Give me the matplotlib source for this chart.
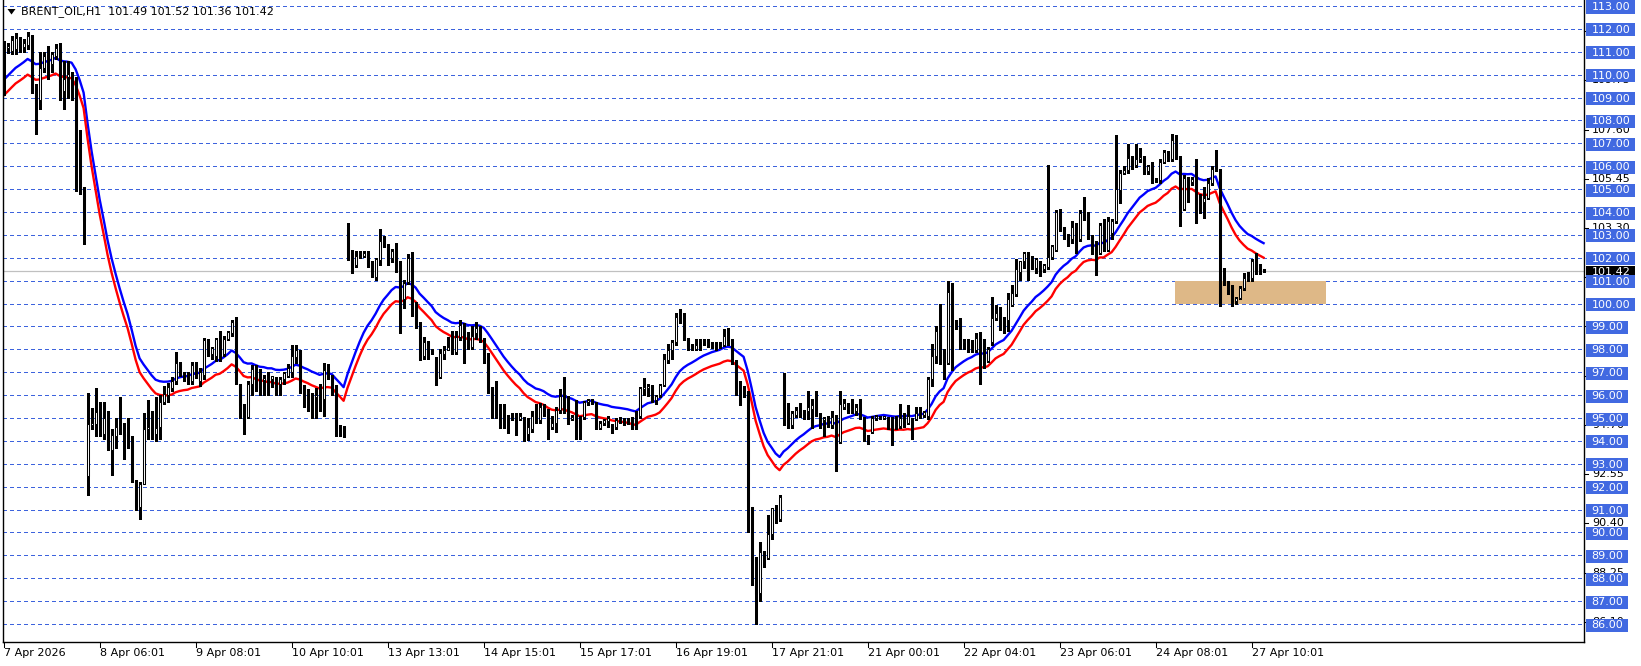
import numpy as np
import matplotlib
matplotlib.use('Agg')
import matplotlib.pyplot as plt
from matplotlib.patches import Rectangle, Polygon
from matplotlib.transforms import blended_transform_factory

# ---------------- data (hourly OHLC, one value per bar) ----------------
opens = [
    111.25, 111.15, 111.05, 111.1, 111.35, 111.2, 111.3, 111.7, 109.4, 108.9,
    110.3, 110.8, 110.45, 110.8, 111.2, 109.3, 109.9, 110.0, 109.8, 107.15,
    105.05, 92.45, 94.7, 94.75, 95.3, 94.3, 95.0, 93.6, 94.2, 94.6,
    94.4, 94.3, 94.0, 92.2, 91.1, 92.1, 94.5, 94.6, 94.3, 94.6,
    95.7, 96.0, 96.3, 96.6, 97.4, 96.95, 96.85, 96.6, 97.3, 96.6,
    96.9, 98.3, 97.8, 97.7, 98.45, 97.8, 98.45, 98.7, 99.2, 96.5,
    95.55, 95.05, 96.5, 97.15, 96.8, 96.65, 96.7, 96.7, 96.7, 96.5,
    96.7, 96.85, 97.0, 97.65, 97.95, 96.4, 96.1, 96.05, 95.9, 96.1,
    95.85, 97.2, 96.8, 96.4, 94.6, 94.6, 103.25, 102.2, 101.7, 102.15,
    102.1, 102.2, 101.75, 101.15, 101.9, 102.75, 102.5, 102.0, 102.3, 101.7,
    100.2, 100.95, 102.0, 99.9, 99.1, 97.7, 98.3, 97.9, 97.55, 96.8,
    97.8, 97.95, 98.1, 97.9, 98.55, 99.05, 98.6, 98.1, 98.7, 98.95,
    98.4, 97.8, 96.3, 95.8, 95.4, 95.15, 95.0, 95.05, 95.1, 94.95,
    95.0, 94.3, 94.5, 95.1, 94.9, 95.5, 95.3, 94.6, 94.8, 95.35,
    96.05, 95.9, 94.95, 95.2, 95.0, 95.05, 95.7, 95.75, 95.6, 94.55,
    94.8, 94.85, 94.65, 94.6, 94.9, 94.9, 94.95, 95.0, 94.95, 95.1,
    96.25, 96.3, 96.4, 95.8, 96.0, 96.45, 97.55, 97.95, 98.3, 99.4,
    99.25, 98.45, 98.2, 98.0, 98.35, 98.4, 98.35, 98.2, 98.25, 98.2,
    98.2, 98.6, 98.3, 97.5, 96.3, 96.2, 96.05, 91.1, 88.9, 87.35,
    89.15, 88.9, 89.95, 91.05, 90.6, 96.65, 95.5, 94.7, 95.15, 95.35,
    95.2, 95.3, 95.4, 95.5, 95.1, 94.9, 95.0, 94.7, 95.0, 93.95,
    95.5, 95.6, 95.3, 95.3, 95.5, 95.0, 94.2, 94.4, 95.0, 95.0,
    95.0, 95.0, 94.7, 95.0, 94.65, 95.1, 94.8, 94.9, 94.95, 95.1,
    95.15, 95.1, 96.7, 97.7, 98.75, 97.9, 97.4, 100.55, 99.2, 99.25,
    98.3, 98.35, 98.25, 97.98, 98.5, 98.3, 97.5, 98.3, 99.35, 99.6,
    99.3, 99.3, 99.95, 100.4, 101.4, 101.85, 102.2, 102.0, 101.55, 101.7,
    101.5, 101.6, 102.05, 102.35, 104.0, 103.3, 103.0, 102.8, 103.35, 102.8,
    103.95, 103.9, 102.9, 102.55, 102.2, 103.4, 102.35, 103.1, 103.6, 104.95,
    105.7, 105.85, 106.35, 106.05, 106.3, 106.3, 105.8, 106.1, 105.4, 105.4,
    106.2, 106.55, 106.3, 107.15, 106.35, 104.15, 105.5, 105.3, 105.45, 104.75,
    104.45, 104.6, 105.25, 105.85, 105.85, 101.2, 100.95, 100.75, 100.1, 100.25,
    100.7, 101.1, 101.1, 101.85, 101.45, 101.49]

highs = [
    111.45, 111.4, 111.7, 111.8, 111.65, 111.55, 111.85, 111.75, 109.6, 111.0,
    111.0, 111.25, 111.0, 111.35, 111.4, 110.6, 110.6, 110.1, 109.9, 107.6,
    105.1, 96.1, 95.45, 96.3, 95.7, 95.7, 95.3, 94.5, 95.0, 95.9,
    94.8, 95.0, 94.2, 92.3, 92.2, 95.2, 95.8, 95.3, 95.9, 96.0,
    96.4, 96.55, 96.8, 97.9, 97.45, 97.0, 97.0, 97.45, 97.45, 97.2,
    98.5, 98.45, 98.1, 98.5, 98.8, 98.6, 98.8, 99.3, 99.4, 96.5,
    95.6, 96.6, 97.3, 97.3, 97.15, 96.9, 97.0, 96.85, 96.8, 96.8,
    97.0, 97.35, 98.2, 98.2, 97.95, 96.45, 96.25, 96.1, 96.3, 96.5,
    97.4, 97.35, 96.9, 96.45, 94.7, 94.65, 103.5, 102.35, 102.3, 102.3,
    102.3, 102.3, 101.85, 102.0, 103.25, 102.95, 102.6, 102.4, 102.65, 101.85,
    101.05, 102.15, 102.25, 100.05, 99.2, 98.55, 98.35, 98.0, 97.65, 98.0,
    98.15, 98.55, 98.8, 98.8, 99.3, 99.15, 98.75, 99.0, 99.2, 99.0,
    98.5, 97.85, 96.35, 96.6, 95.6, 95.6, 95.15, 95.2, 95.2, 95.2,
    95.05, 95.0, 95.3, 95.6, 95.65, 95.6, 95.4, 95.1, 95.5, 96.25,
    96.8, 95.95, 95.15, 95.8, 95.1, 95.75, 95.85, 95.85, 95.7, 94.85,
    94.95, 95.1, 94.75, 95.0, 95.05, 95.0, 95.0, 95.05, 95.3, 96.35,
    96.75, 96.5, 96.45, 96.0, 96.5, 97.8, 98.25, 98.4, 99.6, 99.75,
    99.6, 98.5, 98.25, 98.45, 98.45, 98.45, 98.45, 98.3, 98.3, 98.3,
    98.9, 98.95, 98.45, 97.55, 96.6, 96.4, 96.2, 91.1, 88.95, 89.6,
    89.2, 90.75, 91.05, 91.2, 91.65, 96.95, 95.65, 95.3, 95.5, 95.65,
    95.35, 96.2, 95.85, 96.2, 95.2, 95.05, 95.1, 95.3, 95.15, 96.2,
    95.85, 95.65, 95.85, 95.6, 95.85, 95.05, 94.25, 95.1, 95.15, 95.1,
    95.1, 95.05, 95.05, 95.1, 95.6, 95.2, 95.55, 95.0, 95.5, 95.5,
    95.3, 96.8, 98.25, 99.0, 100.0, 98.0, 101.0, 100.9, 99.3, 99.35,
    98.45, 98.45, 98.4, 98.7, 98.75, 98.45, 98.1, 100.3, 99.95, 99.85,
    99.4, 100.45, 100.8, 101.95, 101.85, 102.25, 102.25, 102.1, 102.0, 101.85,
    101.75, 106.05, 102.55, 104.1, 104.15, 103.35, 103.05, 103.6, 103.5, 104.1,
    104.65, 104.0, 103.0, 102.75, 103.5, 103.7, 103.8, 103.7, 107.35, 105.85,
    106.0, 106.95, 106.45, 106.95, 106.8, 106.45, 106.05, 106.2, 105.5, 106.3,
    106.7, 106.65, 107.42, 107.35, 106.45, 105.6, 105.55, 105.55, 106.3, 104.8,
    105.1, 105.5, 106.0, 106.7, 105.9, 101.55, 101.0, 100.8, 100.3, 100.75,
    101.35, 101.4, 101.95, 102.2, 101.75, 101.52]

lows = [
    109.1, 110.95, 110.9, 110.9, 111.0, 111.0, 111.1, 109.2, 107.4, 108.5,
    110.1, 109.8, 110.1, 110.7, 108.9, 108.5, 109.0, 108.9, 104.9, 104.8,
    102.6, 91.65, 94.5, 94.2, 94.2, 94.1, 93.6, 92.5, 93.7, 94.3,
    93.2, 93.7, 92.2, 91.0, 90.6, 92.1, 94.1, 94.1, 94.0, 94.1,
    95.6, 95.7, 96.2, 96.5, 96.85, 96.6, 96.5, 96.5, 96.75, 96.4,
    96.7, 97.7, 97.6, 97.5, 97.5, 97.7, 98.4, 98.6, 96.5, 95.0,
    94.3, 95.0, 96.0, 96.2, 96.0, 96.0, 96.0, 96.35, 96.0, 96.0,
    96.5, 96.8, 96.8, 97.4, 96.1, 95.5, 95.3, 95.0, 95.0, 95.3,
    95.1, 96.7, 96.0, 94.2, 94.2, 94.15, 101.9, 101.35, 101.6, 102.0,
    102.05, 101.6, 101.15, 101.05, 101.7, 102.45, 101.7, 101.8, 101.4, 98.7,
    99.8, 100.85, 99.45, 98.95, 97.55, 97.6, 97.6, 97.8, 96.45, 96.75,
    97.6, 97.95, 97.8, 97.8, 98.4, 97.4, 98.0, 98.0, 98.45, 98.3,
    97.4, 96.1, 95.0, 95.0, 94.55, 94.55, 94.35, 94.9, 94.25, 94.9,
    94.0, 94.05, 94.4, 94.8, 94.8, 95.1, 94.1, 94.5, 94.4, 95.2,
    95.2, 94.75, 94.9, 94.1, 94.1, 94.95, 95.55, 95.6, 94.5, 94.5,
    94.7, 94.6, 94.35, 94.5, 94.8, 94.7, 94.75, 94.5, 94.5, 95.0,
    96.0, 95.95, 95.7, 95.6, 95.9, 96.4, 97.4, 97.6, 98.2, 99.15,
    98.4, 97.95, 97.95, 97.95, 97.95, 98.2, 98.1, 98.05, 97.95, 98.05,
    98.15, 98.2, 97.35, 96.0, 95.55, 95.9, 90.0, 87.7, 86.0, 87.0,
    88.5, 88.85, 89.7, 90.4, 90.5, 94.7, 94.55, 94.55, 95.05, 95.05,
    94.95, 94.95, 94.55, 95.1, 94.55, 94.2, 94.6, 94.55, 92.7, 93.9,
    95.4, 95.2, 95.2, 95.15, 94.95, 94.0, 93.85, 94.35, 94.9, 94.95,
    94.95, 94.5, 93.8, 94.5, 94.55, 94.6, 94.75, 94.1, 94.9, 95.0,
    95.05, 94.95, 96.4, 97.4, 97.35, 96.7, 97.35, 97.1, 98.9, 98.0,
    98.0, 97.9, 97.9, 97.9, 96.5, 97.2, 97.45, 98.2, 99.3, 98.85,
    98.7, 98.8, 99.9, 100.35, 101.05, 101.55, 101.05, 101.5, 101.35, 101.2,
    101.4, 101.5, 101.95, 102.3, 103.15, 102.8, 102.5, 102.65, 102.2, 102.75,
    103.65, 102.8, 102.15, 101.25, 102.15, 102.3, 102.3, 102.8, 103.5, 104.4,
    105.65, 105.7, 105.9, 105.98, 106.2, 105.65, 105.65, 105.25, 105.3, 105.25,
    106.15, 106.25, 106.25, 106.3, 103.37, 104.1, 104.45, 105.2, 103.5, 103.95,
    103.75, 104.55, 105.2, 105.8, 99.88, 100.8, 100.4, 99.9, 100.0, 100.2,
    100.6, 101.0, 101.0, 101.3, 101.3, 101.36]

closes = [
    111.15, 111.25, 111.5, 111.6, 111.2, 111.4, 111.7, 109.3, 108.9, 110.3,
    110.8, 110.75, 110.9, 111.15, 109.3, 109.8, 110.05, 109.8, 107.15, 105.05,
    103.6, 94.75, 94.8, 95.25, 94.5, 95.0, 93.7, 94.25, 94.6, 94.4,
    94.2, 94.1, 92.2, 91.1, 92.1, 94.5, 94.6, 94.3, 94.55, 95.7,
    96.05, 96.35, 96.6, 97.4, 97.0, 96.85, 96.75, 97.3, 97.0, 97.0,
    98.4, 98.0, 98.05, 98.45, 97.65, 98.45, 98.75, 99.2, 96.6, 95.55,
    95.05, 96.5, 97.15, 96.3, 96.3, 96.75, 96.4, 96.85, 96.2, 96.7,
    96.95, 97.2, 97.7, 97.95, 96.6, 96.05, 96.15, 95.85, 96.0, 95.85,
    97.1, 96.8, 96.4, 94.55, 94.5, 94.2, 102.15, 101.6, 102.1, 102.2,
    102.2, 101.7, 101.2, 101.95, 102.75, 102.5, 102.0, 102.3, 101.7, 100.2,
    100.9, 102.0, 99.9, 99.1, 97.6, 98.3, 98.0, 97.9, 96.8, 97.85,
    97.95, 98.1, 97.85, 98.55, 99.05, 98.55, 98.1, 98.6, 98.95, 98.4,
    97.8, 96.3, 95.75, 95.4, 95.15, 94.95, 95.05, 95.0, 94.95, 95.1,
    94.3, 94.6, 95.1, 94.9, 95.5, 95.2, 94.6, 94.8, 95.35, 95.95,
    95.8, 94.9, 95.05, 94.6, 94.55, 95.7, 95.8, 95.7, 94.55, 94.8,
    94.9, 95.0, 94.6, 94.9, 94.95, 94.85, 94.8, 94.55, 94.6, 96.3,
    96.35, 96.4, 95.8, 95.95, 96.45, 97.6, 97.95, 98.3, 99.4, 99.2,
    98.45, 98.15, 98.0, 98.2, 98.4, 98.35, 98.2, 98.25, 98.1, 98.2,
    98.6, 98.3, 97.5, 96.3, 96.2, 96.1, 91.1, 88.75, 87.3, 89.15,
    88.9, 89.95, 91.05, 90.7, 91.55, 95.5, 94.7, 95.2, 95.35, 95.25,
    95.15, 95.5, 95.55, 95.1, 94.75, 95.0, 94.7, 95.05, 93.85, 95.6,
    95.65, 95.3, 95.35, 95.5, 95.0, 94.2, 93.95, 95.0, 95.1, 95.05,
    95.1, 94.55, 94.55, 94.6, 95.0, 94.7, 95.1, 94.55, 95.2, 95.15,
    95.25, 96.7, 97.7, 98.8, 97.9, 97.35, 100.5, 99.2, 99.0, 98.3,
    98.35, 98.3, 98.1, 98.5, 98.0, 97.5, 98.0, 99.35, 99.6, 99.0,
    98.95, 100.2, 100.45, 101.5, 101.85, 102.2, 101.55, 101.5, 101.95, 101.35,
    101.7, 102.05, 102.5, 104.0, 103.2, 102.95, 102.7, 103.35, 102.75, 103.95,
    103.8, 102.85, 102.5, 102.05, 103.45, 102.35, 103.6, 103.6, 105.0, 105.7,
    105.85, 106.35, 106.0, 106.3, 106.4, 105.75, 106.0, 105.4, 105.35, 106.2,
    106.6, 106.3, 107.15, 106.35, 104.17, 105.5, 105.2, 105.45, 104.1, 104.1,
    104.6, 105.25, 105.9, 105.9, 99.95, 100.9, 100.75, 100.1, 100.25, 100.7,
    101.1, 101.15, 101.85, 101.4, 101.45, 101.42]

# envelope indicator: EMA of closes, upper band blue, lower band red
ma_period = 20
ma_start = 109.43          # average value at the first visible bar
env_deviation = 0.0031     # band offset as a fraction of the average

# x-axis labels: one every 24 bars
x_label_bars = [0, 24, 48, 72, 96, 120, 144, 168, 192, 216, 240, 264, 288, 312]
x_labels = ["7 Apr 2026", "8 Apr 06:01", "9 Apr 08:01", "10 Apr 10:01", "13 Apr 13:01",
            "14 Apr 15:01", "15 Apr 17:01", "16 Apr 19:01", "17 Apr 21:01", "21 Apr 00:01",
            "22 Apr 04:01", "23 Apr 06:01", "24 Apr 08:01", "27 Apr 10:01"]

grid_levels = list(range(86, 114))          # blue labelled levels
scale_ticks = [86.10 + 2.15 * k for k in range(13)]   # terminal's own price scale
last_price = 101.42
zone_bars = (292.85, 330.6)
zone_prices = (100.0, 101.0)
title = "BRENT_OIL,H1  101.49 101.52 101.36 101.42"

# ---------------- figure layout ----------------
W, H, DPI = 1641, 666, 100
PX_PER_UNIT = 22.89
Y_113 = 6.0
fig = plt.figure(figsize=(W / DPI, H / DPI), dpi=DPI)
fig.patch.set_facecolor('white')
plt.rcParams['font.family'] = ['DejaVu Sans']

AX_L, AX_R, AX_T, AX_B = 2.5, 1584.0, 0.0, 642.0
ax = fig.add_axes([AX_L / W, (H - AX_B) / H, (AX_R - AX_L) / W, (AX_B - AX_T) / H])
ax.set_facecolor('white')
ax.set_ylim(113 - (AX_B - Y_113) / PX_PER_UNIT, 113 + (Y_113 - AX_T) / PX_PER_UNIT)
ax.set_xlim((AX_L - 3.6) / 4.0, (AX_R - 3.6) / 4.0)
ax.set_xticks([])
ax.set_yticks([])
for side in ['left', 'right', 'bottom']:
    ax.spines[side].set_linewidth(1.0)
    ax.spines[side].set_color('black')
ax.spines['top'].set_visible(False)

GRID_BLUE = '#3D63DD'
for lv in grid_levels:
    ax.axhline(lv, color=GRID_BLUE, lw=0.72, ls=(0, (3, 3)), zorder=1, antialiased=False)

# zone rectangle
ax.add_patch(Rectangle((zone_bars[0], zone_prices[0]), zone_bars[1] - zone_bars[0],
                       zone_prices[1] - zone_prices[0], facecolor='#DEB887',
                       edgecolor='none', zorder=1.5))

# last price line
ax.axhline(last_price, color='#C0C0C0', lw=0.9, zorder=1.6)

o = np.array(opens); h = np.array(highs); l = np.array(lows); c = np.array(closes)
x = np.arange(len(o))

def ema(vals, start, period):
    a = 2.0 / (period + 1)
    out = np.empty(len(vals))
    out[0] = start
    for i in range(1, len(vals)):
        out[i] = out[i - 1] + a * (vals[i] - out[i - 1])
    return out

ma = ema(c, ma_start, ma_period)
upper = ma * (1 + env_deviation)
lower = ma * (1 - env_deviation)
ax.plot(x, upper, color='#0000FF', lw=1.7, zorder=2, solid_joinstyle='round')
ax.plot(x, lower, color='#FF0000', lw=1.7, zorder=2, solid_joinstyle='round')

# candles
ax.vlines(x, l, h, color='black', lw=0.75, zorder=3, antialiased=False)
up = c >= o
bot = np.minimum(o, c)
hgt = np.abs(c - o)
ax.bar(x[up], hgt[up], bottom=bot[up], width=0.5, facecolor='white',
       edgecolor='black', linewidth=0.75, zorder=4)
ax.bar(x[~up], hgt[~up], bottom=bot[~up], width=0.5, facecolor='black',
       edgecolor='black', linewidth=0.75, zorder=4)

# ---------------- overlay for labels (pixel coordinates) ----------------
ov = fig.add_axes([0, 0, 1, 1], zorder=5)
ov.set_xlim(0, W)
ov.set_ylim(H, 0)
ov.set_axis_off()
ov.patch.set_alpha(0)

tr_xpx_yprice = blended_transform_factory(ov.transData, ax.transData)
tr_xbar_ypx = blended_transform_factory(ax.transData, ov.transData)
PX = 1.0 / PX_PER_UNIT

# terminal price scale (black) below the blue boxes
for v in scale_ticks:
    ov.text(1592, v, f"{v:.2f}", transform=tr_xpx_yprice, fontsize=8, color='black',
            va='center', ha='left', zorder=1)
    ov.plot([1584, 1588], [v, v], color='black', lw=0.75, transform=tr_xpx_yprice, zorder=1)

# last price black box
ov.add_patch(Rectangle((1586, last_price - 8 * PX), 49, 13 * PX, facecolor='black',
                       edgecolor='none', transform=tr_xpx_yprice, zorder=2))
ov.text(1591.5, last_price - 1 * PX, f"{last_price:.2f}", transform=tr_xpx_yprice,
        fontsize=8, color='white', va='center', ha='left', zorder=2.5)

# blue level labels
for lv in grid_levels:
    wbox = 49 if lv >= 100 else 42
    ov.add_patch(Rectangle((1586, lv - 7.5 * PX), wbox, 13 * PX, facecolor='#4169E1',
                           edgecolor='none', transform=tr_xpx_yprice, zorder=3))
    ov.text(1591.5, lv - 1 * PX, f"{lv:.2f}", transform=tr_xpx_yprice, fontsize=8,
            color='white', va='center', ha='left', zorder=4)

# x-axis labels and tick marks
for b, lab in zip(x_label_bars, x_labels):
    ov.plot([b, b], [642, 646.5], color='black', lw=0.75, transform=tr_xbar_ypx)
    ov.text(b, 653, lab, transform=tr_xbar_ypx, fontsize=8, color='black',
            va='center', ha='left')

# title
ov.add_patch(Polygon([(7.5, 9), (15.5, 9), (11.5, 14.5)], closed=True, facecolor='black',
                     edgecolor='none'))
ov.text(21, 12, title, fontsize=8, color='black', va='center', ha='left')

fig.savefig('out.png', dpi=DPI, facecolor='white')
